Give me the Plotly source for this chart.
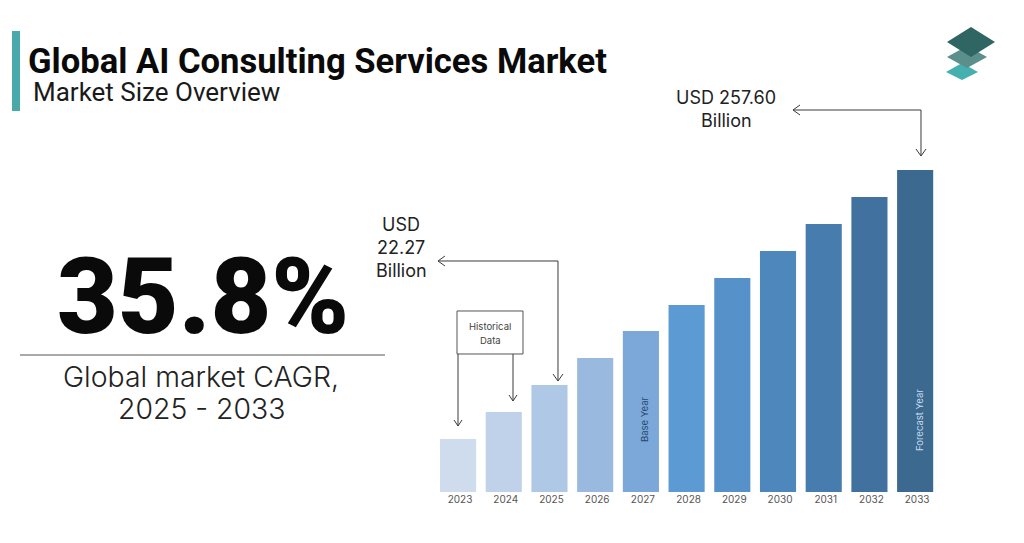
import plotly.graph_objects as go

years = ["2023", "2024", "2025", "2026", "2027", "2028", "2029", "2030", "2031", "2032", "2033"]
# relative bar heights, the source prints no axis
bar_index = [5.3, 8.0, 10.7, 13.4, 16.1, 18.7, 21.4, 24.1, 26.8, 29.5, 32.2]
bar_colors = ["#cfdcee", "#c0d2e9", "#afc8e6", "#9ab9df", "#7ba8d9", "#5b9ad3",
              "#5692c9", "#4d87bb", "#477cae", "#41729f", "#3b6990"]

W, H = 1024, 543
FONT = "Roboto"
BODY_FONT = "Inter"
LINE = "#3a3a3a"


def px(x):
    return x / W


def py(y):
    return 1 - y / H


def path(points, close=False):
    d = "M " + " L ".join(f"{px(x):.5f},{py(y):.5f}" for x, y in points)
    return d + (" Z" if close else "")


def line_shape(points, color=LINE, width=1):
    return dict(type="path", xref="paper", yref="paper", path=path(points),
                line=dict(color=color, width=width))


def fill_shape(points, color):
    return dict(type="path", xref="paper", yref="paper", path=path(points, True),
                fillcolor=color, line=dict(width=0))


def label(text, x, y, size, color="#222222", weight=400, angle=0, xanchor="center", family=BODY_FONT):
    return dict(text=text, x=px(x), y=py(y), xref="paper", yref="paper", showarrow=False,
                xanchor=xanchor, yanchor="middle", textangle=angle, align="center",
                font=dict(family=family, size=size, color=color, weight=weight))


fig = go.Figure(go.Bar(x=years, y=bar_index, width=0.79, marker=dict(color=bar_colors, line=dict(width=0))))

shapes = [
    # accent bar next to the title
    fill_shape([(12, 31), (20, 31), (20, 111), (12, 111)], "#4aa9ab"),
    # logo
    fill_shape([(946, 72), (962, 63), (978, 72), (962, 80)], "#45b0b0"),
    fill_shape([(947, 57), (967, 46), (987, 57), (967, 68)], "#5b8f8c"),
    fill_shape([(947, 42), (971, 27), (995, 42), (971, 57)], "#2f6663"),
    # rule under the big number
    line_shape([(20, 355), (385, 355)], "#555555", 1),
    # forecast callout
    line_shape([(793, 110), (921, 110), (921, 156)]),
    line_shape([(800, 105), (793, 110), (800, 115)]),
    line_shape([(916, 149), (921, 156), (926, 149)]),
    # base value callout
    line_shape([(438, 261), (558, 261), (558, 381)]),
    line_shape([(445, 256), (438, 261), (445, 266)]),
    line_shape([(553, 374), (558, 381), (563, 374)]),
    # historical data box and arrows
    line_shape([(457, 311), (523, 311), (523, 354), (457, 354), (457, 311)], "#555555", 1),
    line_shape([(458, 354), (458, 426)]),
    line_shape([(454, 420), (458, 426), (462, 420)]),
    line_shape([(513, 354), (513, 401)]),
    line_shape([(509, 395), (513, 401), (517, 395)]),
]

annotations = [
    label("Global AI Consulting Services Market", 26, 61, 34.6, "#0a0a0a", 700, xanchor="left", family=FONT),
    label("Market Size Overview", 31, 92, 26, "#1a1a1a", xanchor="left", family=FONT),
    label("35.8%", 203, 297, 105, "#0a0a0a", 900, family=FONT),
    label("Global market CAGR,", 201, 376, 28.4, weight=300),
    label("2025 - 2033", 201, 408, 28.4, weight=300),
    label("USD 257.60", 726, 97, 18),
    label("Billion", 726, 120, 18),
    label("USD", 401, 225, 18),
    label("22.27", 401, 248, 18),
    label("Billion", 401, 271, 18),
    label("Historical", 490, 326, 9.5, "#444444"),
    label("Data", 490, 340, 9.5, "#444444"),
    label("Base Year", 644, 420, 9.5, "#24476d", angle=-90),
    label("Forecast Year", 919, 420, 9.5, "#c9dcec", angle=-90),
]

fig.update_layout(
    width=W,
    height=H,
    margin=dict(l=0, r=0, t=0, b=0),
    paper_bgcolor="white",
    plot_bgcolor="white",
    showlegend=False,
    shapes=shapes,
    annotations=annotations,
    xaxis=dict(
        type="category",
        domain=[px(435.2), px(938)],
        range=[-0.5, 10.5],
        showgrid=False,
        showline=False,
        zeroline=False,
        ticks="",
        ticklabelshift=2,
        tickfont=dict(family=BODY_FONT, size=10, color="#555555"),
    ),
    yaxis=dict(
        domain=[py(492), py(160)],
        range=[0, 33.2],
        visible=False,
    ),
)

fig.write_html("out.html", config={"displayModeBar": False}, post_script="document.body.style.margin='0';")
